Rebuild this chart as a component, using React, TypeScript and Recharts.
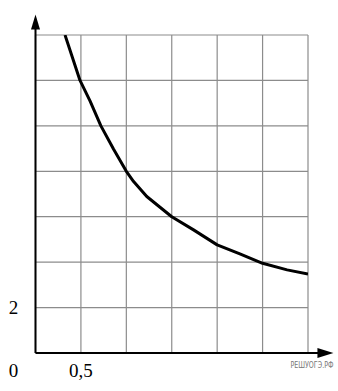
import React from "react";
import {
  LineChart,
  Line,
  XAxis,
  YAxis,
  CartesianGrid,
  ReferenceLine,
  ReferenceDot,
} from "recharts";

const xTicks = [0, 0.5, 1, 1.5, 2, 2.5, 3];
const yTicks = [0, 2, 4, 6, 8, 10, 12, 14];
const curveX = [0.325, 0.49, 0.6, 0.72, 0.86, 1.0, 1.08, 1.225, 1.5, 1.74, 2.0, 2.25, 2.5, 2.77, 3.0];
const curveY = [14, 12, 11.1, 10, 8.97, 8.0, 7.55, 6.89, 6.0, 5.42, 4.76, 4.36, 3.95, 3.66, 3.48];
const xLabel = "0,5";
const yLabel = "2";
const originLabel = "0";
const watermark = "РЕШУОГЭ.РФ";
const xAxisEnd = 3.28;
const yAxisEnd = 14.9;

const data = curveX.map((x, i) => ({ x, y: curveY[i] }));

const serif = "'Liberation Serif', 'Times New Roman', serif";

const XTick = (props: any) => {
  const { x, y, payload } = props;
  if (payload.value !== 0.5) return <g />;
  return (
    <text x={x} y={y + 16} textAnchor="middle" fontFamily={serif} fontSize={19} fill="#000">
      {xLabel}
    </text>
  );
};

const YTick = (props: any) => {
  const { x, y, payload } = props;
  if (payload.value !== 2) return <g />;
  return (
    <text x={x - 14} y={y + 6.5} textAnchor="middle" fontFamily={serif} fontSize={19} fill="#000">
      {yLabel}
    </text>
  );
};

export default function App() {
  return (
    <div style={{ position: "absolute", left: 0, top: 0, background: "#fff" }}>
      <LineChart
        width={338}
        height={391}
        data={data}
        margin={{ top: 35, right: 30, bottom: 0, left: 0 }}
      >
        <CartesianGrid stroke="#8c8c8c" strokeWidth={1.2} />
        <XAxis
          dataKey="x"
          type="number"
          domain={[0, 3]}
          ticks={xTicks}
          allowDataOverflow
          axisLine={false}
          tickLine={false}
          height={38}
          tick={<XTick />}
        />
        <YAxis
          type="number"
          domain={[0, 14]}
          ticks={yTicks}
          allowDataOverflow
          axisLine={false}
          tickLine={false}
          width={35.5}
          tick={<YTick />}
        />
        <Line
          dataKey="y"
          type="linear"
          stroke="#000"
          strokeWidth={3}
          strokeLinejoin="round"
          dot={false}
          isAnimationActive={false}
        />
        <ReferenceLine
          segment={[{ x: 0, y: 0 }, { x: xAxisEnd - 0.15, y: 0 }]}
          stroke="#000"
          strokeWidth={2}
          ifOverflow="visible"
        />
        <ReferenceLine
          segment={[{ x: 0, y: 0 }, { x: 0, y: yAxisEnd - 0.5 }]}
          stroke="#000"
          strokeWidth={2}
          ifOverflow="visible"
        />
        <ReferenceDot
          x={xAxisEnd}
          y={0}
          ifOverflow="visible"
          shape={(p: any) => (
            <polygon
              points={`${p.cx},${p.cy} ${p.cx - 16},${p.cy - 5} ${p.cx - 16},${p.cy + 5}`}
              fill="#000"
            />
          )}
        />
        <ReferenceDot
          x={0}
          y={yAxisEnd}
          ifOverflow="visible"
          shape={(p: any) => (
            <polygon
              points={`${p.cx},${p.cy} ${p.cx - 4.5},${p.cy + 15} ${p.cx + 4.5},${p.cy + 15}`}
              fill="#000"
            />
          )}
        />
        <ReferenceDot
          x={0}
          y={0}
          ifOverflow="visible"
          shape={(p: any) => (
            <text x={p.cx - 22} y={p.cy + 24} textAnchor="middle" fontFamily={serif} fontSize={19} fill="#000">
              {originLabel}
            </text>
          )}
        />
        <ReferenceDot
          x={xAxisEnd}
          y={0}
          ifOverflow="visible"
          shape={(p: any) => (
            <text
              x={p.cx}
              y={p.cy + 15}
              textAnchor="end"
              fontFamily="'DejaVu Sans Condensed', 'DejaVu Sans', sans-serif"
              fontSize={8}
              textLength={43}
              lengthAdjust="spacingAndGlyphs"
              fill="#777"
            >
              {watermark}
            </text>
          )}
        />
      </LineChart>
    </div>
  );
}
